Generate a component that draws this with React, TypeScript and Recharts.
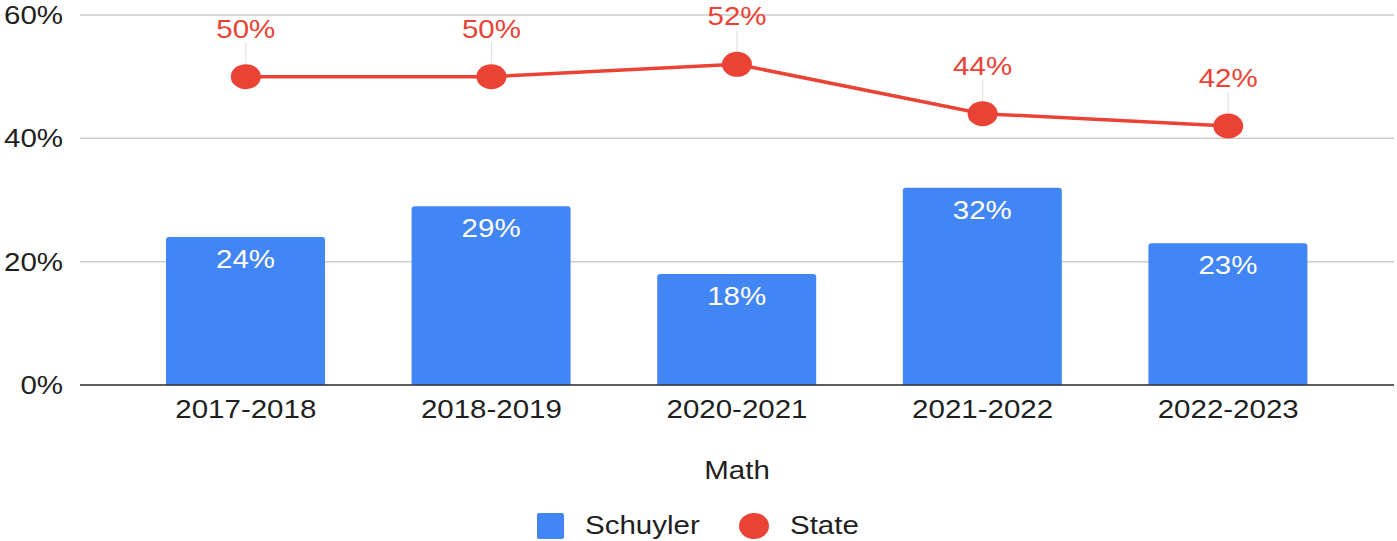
import React from 'react';
import {
  ComposedChart,
  Bar,
  Line,
  XAxis,
  YAxis,
  CartesianGrid,
  Legend,
  LabelList
} from 'recharts';

const years = ['2017-2018', '2018-2019', '2020-2021', '2021-2022', '2022-2023'];
const schuyler = [24, 29, 18, 32, 23];
const state = [50, 50, 52, 44, 42];
const yTicks = [0, 20, 40, 60];

const BLUE = '#4285F4';
const RED = '#EA4335';
const INK = '#1f1f1f';
const FONT = '"Liberation Sans", Arial, sans-serif';
const FS = 25;
const SX = 1.18; // the reference is slightly stretched sideways

// text whose baseline sits at (x, y), widened by SX
const WideText = ({ x, y, anchor = 'middle', fill = INK, children }: any) => (
  <text
    transform={`translate(${x},${y}) scale(${SX},1)`}
    textAnchor={anchor}
    fill={fill}
    fontSize={FS}
    fontFamily={FONT}
  >
    {children}
  </text>
);

const XTick = (props: any) => {
  const { x, y, payload } = props;
  return <WideText x={x} y={y + 18}>{payload.value}</WideText>;
};

const YTick = (props: any) => {
  const { x, y, payload } = props;
  return <WideText x={x} y={y + 9} anchor="end">{`${payload.value}%`}</WideText>;
};

const AxisTitle = (props: any) => {
  const { viewBox } = props;
  return (
    <WideText x={viewBox.x + viewBox.width / 2} y={viewBox.y + viewBox.height - 16}>
      Math
    </WideText>
  );
};

const BarValue = (props: any) => {
  const { x, y, width, value } = props;
  return <WideText x={x + width / 2} y={y + 31} fill="#ffffff">{`${value}%`}</WideText>;
};

// Red percentage above each State point, with a faint leader line down to the dot
const StateLabel = (props: any) => {
  const { x, y, value } = props;
  return (
    <g>
      <line x1={x} x2={x} y1={y - 34} y2={y - 13} stroke="#dddddd" strokeWidth={1} />
      <WideText x={x} y={y - 39} fill={RED}>{`${value}%`}</WideText>
    </g>
  );
};

const StateDot = (props: any) => {
  const { cx, cy } = props;
  return <ellipse cx={cx} cy={cy} rx={15} ry={12.5} fill={RED} />;
};

const LegendContent = () => (
  <div
    style={{
      display: 'flex',
      justifyContent: 'center',
      alignItems: 'center',
      paddingTop: 16,
      fontFamily: FONT,
      fontSize: FS,
      color: INK
    }}
  >
    <span style={{ width: 27, height: 26, background: BLUE, borderRadius: 2, display: 'inline-block' }} />
    <span style={{ marginLeft: 21, marginRight: 37, width: 117, display: 'inline-block' }}>
      <span style={{ display: 'inline-block', transform: `scaleX(${SX})`, transformOrigin: 'left center' }}>Schuyler</span>
    </span>
    <span style={{ width: 30, height: 26, background: RED, borderRadius: '50%', display: 'inline-block' }} />
    <span style={{ marginLeft: 21, width: 67, display: 'inline-block' }}>
      <span style={{ display: 'inline-block', transform: `scaleX(${SX})`, transformOrigin: 'left center' }}>State</span>
    </span>
  </div>
);

export default function App() {
  const data = years.map((year, i) => ({
    year,
    schuyler: schuyler[i],
    state: state[i]
  }));

  return (
    <div style={{ position: 'absolute', left: 0, top: 0, width: 1397, height: 541, background: '#fff' }}>
      <ComposedChart
        width={1397}
        height={541}
        data={data}
        margin={{ top: 15, right: 3, bottom: 0, left: 0 }}
      >
        <CartesianGrid vertical={false} stroke="#cccccc" strokeWidth={1.5} />
        <XAxis
          dataKey="year"
          height={110}
          padding={{ left: 43, right: 43 }}
          tickSize={0}
          tickMargin={15}
          axisLine={{ stroke: '#333', strokeWidth: 1.5 }}
          tick={<XTick />}
          label={{ value: 'Math', position: 'insideBottom', content: <AxisTitle /> }}
        />
        <YAxis
          width={80}
          domain={[0, 60]}
          ticks={yTicks}
          tickSize={0}
          tickMargin={17}
          axisLine={false}
          tick={<YTick />}
        />
        <Legend verticalAlign="bottom" height={46} content={<LegendContent />} />
        <Bar dataKey="schuyler" name="Schuyler" fill={BLUE} barSize={159} radius={[3, 3, 0, 0]} isAnimationActive={false}>
          <LabelList dataKey="schuyler" content={<BarValue />} />
        </Bar>
        <Line
          dataKey="state"
          name="State"
          stroke={RED}
          strokeWidth={3.5}
          dot={<StateDot />}
          activeDot={false}
          isAnimationActive={false}
        >
          <LabelList dataKey="state" content={<StateLabel />} />
        </Line>
      </ComposedChart>
    </div>
  );
}
